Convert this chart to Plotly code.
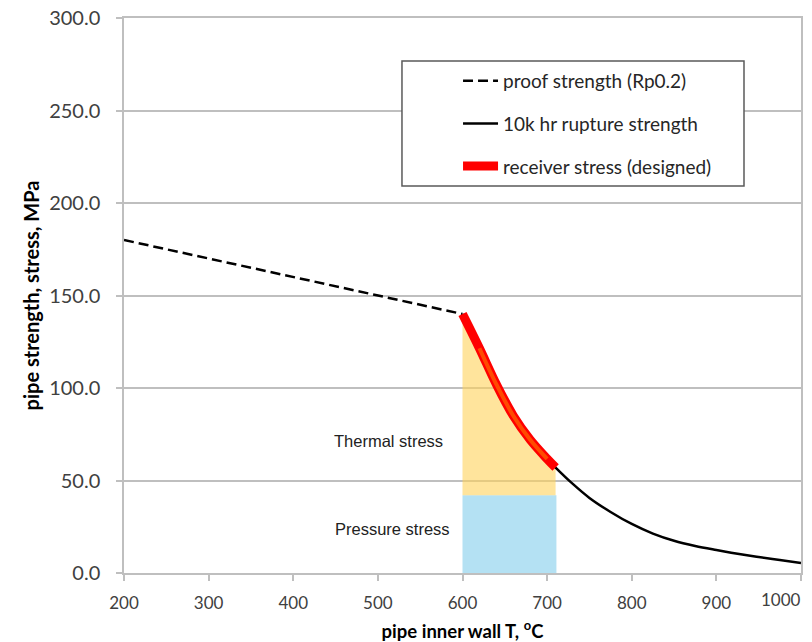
import plotly.graph_objects as go

# ---- data ----
proof_T = [200, 600]
proof_S = [180.0, 140.0]

rupture_T = [600, 620, 640, 660, 680, 700, 710, 730, 750, 775, 800,
             825, 850, 875, 900, 925, 950, 975, 1000]
rupture_S = [140.0, 121.5, 102.0, 85.0, 72.0, 61.7, 57.0, 48.3, 40.6, 33.0, 26.5,
             21.3, 17.4, 14.6, 12.4, 10.4, 8.6, 7.0, 5.4]

design_T = rupture_T[:7]
design_S = rupture_S[:7]

pressure_stress = 42.0
pressure_T = [600, 711]

x_ticks = [200, 300, 400, 500, 600, 700, 800, 900, 1000]
x_tick_labels = ["200", "300", "400", "500", "600", "700", "800", "900", "1000"]
y_ticks = [0, 50, 100, 150, 200, 250, 300]

FONT = "Lato"
GRID = "#BFBFBF"
TXT = "#404040"

fig = go.Figure()

# pressure stress area (blue)
fig.add_trace(go.Scatter(
    x=[pressure_T[0], pressure_T[1], pressure_T[1], pressure_T[0], pressure_T[0]],
    y=[0, 0, pressure_stress, pressure_stress, 0],
    fill="toself", fillcolor="#B4E1F3", line=dict(width=0), mode="lines",
    showlegend=False, hoverinfo="skip"))

# thermal stress area (yellow)
fig.add_trace(go.Scatter(
    x=design_T + [design_T[-1], design_T[0], design_T[0]],
    y=design_S + [pressure_stress, pressure_stress, design_S[0]],
    fill="toself", fillcolor="rgba(255,210,90,0.6)", line=dict(width=0), mode="lines",
    showlegend=False, hoverinfo="skip"))

fig.add_trace(go.Scatter(
    x=proof_T, y=proof_S, mode="lines", name="proof strength (Rp0.2)",
    line=dict(color="black", width=2.5, dash="10px,5px"), legendgroup="a"))

fig.add_trace(go.Scatter(
    x=rupture_T, y=rupture_S, mode="lines", name="10k hr rupture strength",
    line=dict(color="black", width=2.5, shape="spline", smoothing=1.0), legendgroup="b"))

fig.add_trace(go.Scatter(
    x=design_T, y=design_S, mode="lines", name="receiver stress (designed)",
    line=dict(color="#FF0000", width=9, shape="spline", smoothing=1.0), legendgroup="c"))

fig.add_trace(go.Scatter(
    x=design_T[1:-1], y=design_S[1:-1], mode="lines",
    line=dict(color="#FF4A00", width=4, shape="spline", smoothing=1.0),
    showlegend=False, hoverinfo="skip"))

fig.add_annotation(x=513, y=71.4, text="Thermal stress", showarrow=False,
                   font=dict(family="Liberation Sans", size=16.5, color="#222222"))
fig.add_annotation(x=517, y=23.8, text="Pressure stress", showarrow=False,
                   font=dict(family="Liberation Sans", size=16.5, color="#222222"))

# last x tick label, nudged inside the figure like the original
fig.add_annotation(x=x_ticks[-1], y=0, xref="x", yref="paper", text=x_tick_labels[-1],
                   showarrow=False, xanchor="right", yanchor="top", yshift=-14, xshift=2,
                   font=dict(family=FONT, size=17, color=TXT))

# legend box
fig.add_shape(type="rect", xref="paper", yref="paper",
              x0=0.4106, x1=0.9158, y0=0.6973, y1=0.9225,
              line=dict(color="#5A5A5A", width=1.5), fillcolor="white", layer="above")

fig.update_layout(
    width=812, height=642,
    margin=dict(l=124, r=11, t=18, b=69),
    paper_bgcolor="white", plot_bgcolor="white",
    template="none",
    font=dict(family=FONT, color=TXT),
    showlegend=True,
    legend=dict(x=0.4934, y=0.921, xanchor="left", yanchor="top",
                bgcolor="rgba(0,0,0,0)", borderwidth=0,
                font=dict(family=FONT, size=19, color="#262626"),
                traceorder="grouped", tracegroupgap=15, itemwidth=35),
    xaxis=dict(range=[200, 1000], tickvals=x_ticks[:-1], ticktext=x_tick_labels[:-1],
               minor=dict(tickvals=x_ticks[-1:], ticks="outside", ticklen=6,
                          tickcolor=GRID, tickwidth=1.5, showgrid=False),
               showgrid=False, zeroline=False, showline=True, linecolor=GRID, linewidth=1.5,
               mirror=True, ticks="outside", ticklen=6, tickcolor=GRID, tickwidth=1.5,
               ticklabelstandoff=8,
               tickfont=dict(family=FONT, size=17, color=TXT), automargin=False,
               title=dict(text="pipe inner wall T, <sup>o</sup>C", standoff=14,
                          font=dict(family=FONT, size=18.5, color="black", weight="bold"))),
    yaxis=dict(range=[0, 300], tickvals=y_ticks, tickformat=".1f",
               showgrid=True, gridcolor=GRID, gridwidth=1.5, zeroline=False,
               showline=True, linecolor=GRID, linewidth=1.5, mirror=True,
               ticks="outside", ticklen=6, tickcolor=GRID, tickwidth=1.5,
               ticklabelstandoff=12,
               tickfont=dict(family=FONT, size=20, color=TXT), automargin=False,
               title=dict(text="pipe strength, stress, MPa", standoff=4,
                          font=dict(family=FONT, size=20, color="black", weight="bold"))),
)

fig.write_html("out.html")
